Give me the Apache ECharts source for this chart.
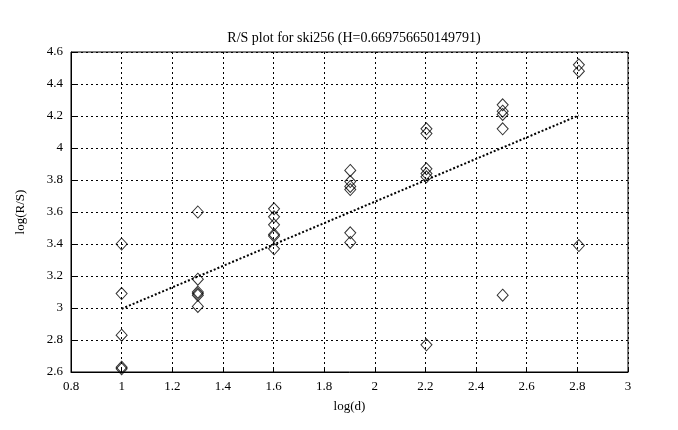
<!DOCTYPE html>
<html><head><meta charset="utf-8">
<script src="https://cdn.jsdelivr.net/npm/echarts@6/dist/echarts.min.js"></script>
<style>html,body{margin:0;padding:0;background:#fff}#c{width:678px;height:430px}</style>
</head><body><div id="c"></div>
<script>
const titleText = 'R/S plot for ski256 (H=0.669756650149791)';
const xName = 'log(d)';
const yName = 'log(R/S)';
const logD = [1.0, 1.301, 1.602, 1.903, 2.204, 2.505, 2.806];
const rsAt1 = [3.40, 3.09, 2.83, 2.63, 2.62];
const rsAt2 = [3.60, 3.18, 3.10, 3.08, 3.09, 3.01];
const rsAt3 = [3.62, 3.57, 3.52, 3.46, 3.45, 3.37];
const rsAt4 = [3.86, 3.79, 3.76, 3.74, 3.47, 3.41];
const rsAt5 = [4.12, 4.09, 3.87, 3.84, 3.82, 2.77];
const rsAt6 = [4.27, 4.23, 4.21, 4.12, 3.08];
const rsAt7 = [4.52, 4.48, 3.39];
const fitX = [1.0, 2.806];
const fitY = [2.995, 4.204];

const groups = [rsAt1, rsAt2, rsAt3, rsAt4, rsAt5, rsAt6, rsAt7];
const pts = [];
groups.forEach((g, i) => g.forEach(v => pts.push([logD[i], v])));
const fit = fitX.map((x, i) => [x, fitY[i]]);

const font = 'Liberation Serif';
const chart = echarts.init(document.getElementById('c'), null, {renderer: 'canvas'});
const axisCommon = {
  axisLine: {show: true, onZero: false, lineStyle: {color: '#000', width: 1}},
  axisTick: {show: true, inside: true, length: 5, lineStyle: {color: '#000'}},
  splitLine: {show: true, lineStyle: {color: '#000', type: [2, 3], width: 1}},
  axisLabel: {color: '#000', fontFamily: font, fontSize: 13},
  nameTextStyle: {color: '#000', fontFamily: font, fontSize: 13}
};
chart.setOption({
  animation: false,
  backgroundColor: '#fff',
  title: {text: titleText, left: 349, top: 26, textAlign: 'center',
    textStyle: {color: '#000', fontFamily: font, fontSize: 14, fontWeight: 'normal'}},
  grid: {left: 71, right: 50, top: 52, bottom: 58, show: true, borderColor: '#000', borderWidth: 1},
  xAxis: Object.assign({type: 'value', min: 0.8, max: 3, interval: 0.2,
    name: xName, nameLocation: 'middle', nameGap: 28}, axisCommon,
    {axisLabel: {color: '#000', fontFamily: font, fontSize: 13, margin: 8,
      formatter: v => String(Math.round(v * 10) / 10)}}),
  yAxis: Object.assign({type: 'value', min: 2.6, max: 4.6, interval: 0.2,
    name: yName, nameLocation: 'middle', nameGap: 44, nameRotate: 90}, axisCommon,
    {axisLabel: {color: '#000', fontFamily: font, fontSize: 13, margin: 8,
      formatter: v => String(Math.round(v * 10) / 10)}}),
  series: [
    {type: 'scatter', data: pts, symbol: 'diamond', symbolSize: [11, 12],
      itemStyle: {color: 'rgba(255,255,255,0)', borderColor: '#000', borderWidth: 1}},
    {type: 'line', data: fit, symbol: 'none',
      lineStyle: {color: '#000', width: 2, type: [2, 2]}}
  ]
});
</script></body></html>
